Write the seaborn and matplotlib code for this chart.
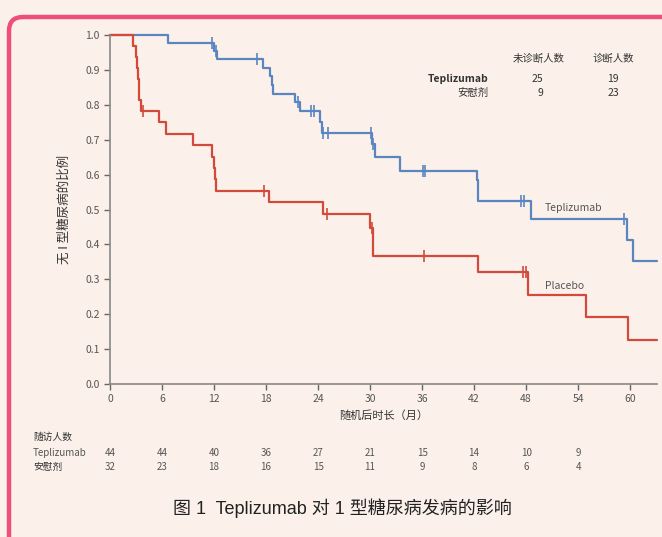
import numpy as np
import seaborn as sns
import matplotlib.pyplot as plt
from matplotlib.patches import FancyBboxPatch

# Kaplan-Meier steps (months, proportion)
tep_t = [0, 6.7, 12.0, 12.4, 17.6, 18.5, 18.7, 18.8, 21.3, 21.9, 24.2, 24.5,
         30.2, 30.6, 33.5, 42.3, 42.5, 48.6, 59.6, 60.3, 63.1]
tep_s = [1.0, 0.977, 0.955, 0.931, 0.906, 0.882, 0.857, 0.831, 0.807, 0.781,
         0.75, 0.72, 0.688, 0.651, 0.611, 0.585, 0.524, 0.473, 0.413, 0.353, 0.353]
tep_cens = [11.8, 12.2, 17.0, 21.7, 23.2, 23.5, 24.6, 25.2, 30.1, 30.3,
            36.1, 36.3, 47.4, 47.8, 59.3]

pla_t = [0, 2.6, 3.0, 3.1, 3.2, 3.3, 3.4, 3.6, 5.6, 6.5, 9.6, 11.8, 12.0,
         12.1, 12.2, 18.3, 24.6, 30.0, 30.3, 42.4, 48.2, 54.9, 59.7, 63.1]
pla_s = [1.0, 0.969, 0.938, 0.906, 0.875, 0.844, 0.813, 0.781, 0.750, 0.716,
         0.685, 0.651, 0.62, 0.588, 0.554, 0.521, 0.486, 0.446, 0.367, 0.32,
         0.255, 0.191, 0.126, 0.126]
pla_cens = [3.85, 17.8, 25.0, 30.2, 36.2, 47.6, 48.0]

risk_months = [0, 6, 12, 18, 24, 30, 36, 42, 48, 54]
risk_tep = [44, 44, 40, 36, 27, 21, 15, 14, 10, 9]
risk_pla = [32, 23, 18, 16, 15, 11, 9, 8, 6, 4]

groups = ["Teplizumab", "安慰剂"]
n_free = [25, 9]
n_diag = [19, 23]

bg = "#FBF1EA"
blue = "#5A85C1"
red = "#D24A3C"
grey = "#666666"

sns.set_style("ticks")
plt.rcParams['font.family'] = ['Noto Sans CJK SC', 'DejaVu Sans']
plt.rcParams['axes.unicode_minus'] = False

fig = plt.figure(figsize=(6.62, 5.37), dpi=100, facecolor=bg)
ax = fig.add_axes([110 / 662, 1 - 384 / 537, 547 / 662, 349 / 537])
ax.set_facecolor(bg)

frame = FancyBboxPatch((0.09, -1.0), 7.5, 6.2, boxstyle="round,pad=0,rounding_size=0.14",
                       transform=fig.dpi_scale_trans, facecolor="none",
                       edgecolor="#EE4F78", lw=3.2, zorder=-5)
fig.patches.append(frame)


def censor_y(t, s, cens):
    idx = np.searchsorted(t, cens, side="right") - 1
    return np.asarray(s)[idx]


for t, s, cens, col in [(tep_t, tep_s, tep_cens, blue), (pla_t, pla_s, pla_cens, red)]:
    sns.lineplot(x=t, y=s, ax=ax, color=col, lw=1.6, drawstyle="steps-post",
                 clip_on=False)
    ax.plot(cens, censor_y(t, s, cens), ls="none", marker="|", ms=8, mew=1.2,
            color=col, clip_on=False)

ax.set_xlim(0, 63.1)
ax.set_ylim(0, 1.0)
ax.set_xticks(range(0, 61, 6))
ax.set_yticks(np.arange(0, 1.01, 0.1))
ax.set_yticklabels([f"{v:.1f}" for v in np.arange(0, 1.01, 0.1)])
ax.tick_params(colors=grey, labelsize=7.5, length=4, width=1)
ax.tick_params(axis="x", labelcolor="#555555")
ax.tick_params(axis="y", labelcolor="#555555")
for sp in ["left", "bottom"]:
    ax.spines[sp].set_color("#888888")
    ax.spines[sp].set_linewidth(1.2)
sns.despine(ax=ax)

ax.set_xlabel("随机后时长（月）", fontsize=8, color="#333333", labelpad=4)
ax.set_ylabel("无 I 型糖尿病的比例", fontsize=9, color="#333333", labelpad=10)

ax.text(50.2, 0.505, "Teplizumab", fontsize=7.5, color="#555555", va="center")
ax.text(50.2, 0.28, "Placebo", fontsize=7.5, color="#555555", va="center")

# summary table, top right
ax.text(49.5, 0.931, "未诊断人数", fontsize=7.5, color="#333333", ha="center", va="center")
ax.text(58.0, 0.931, "诊断人数", fontsize=7.5, color="#333333", ha="center", va="center")
for i, g in enumerate(groups):
    yy = 0.874 - i * 0.04
    ax.text(43.7, yy, g, fontsize=7.5, color="#333333", ha="right", va="center",
            fontweight="bold" if i == 0 else "normal")
    ax.text(50.0, yy, str(n_free[i]), fontsize=7.5, color="#333333", ha="right", va="center")
    ax.text(58.7, yy, str(n_diag[i]), fontsize=7.5, color="#333333", ha="right", va="center")

# number at risk
tr = ax.get_xaxis_transform()
fig.text(33 / 662, 1 - 437 / 537, "随访人数", fontsize=7, color="#333333", va="center")
fig.text(33 / 662, 1 - 453 / 537, "Teplizumab", fontsize=7, color="#555555", va="center")
fig.text(33 / 662, 1 - 467 / 537, "安慰剂", fontsize=7, color="#333333", va="center")
for m, a, b in zip(risk_months, risk_tep, risk_pla):
    ax.text(m, -69 / 349, str(a), transform=tr, fontsize=7, color="#555555",
            ha="center", va="center")
    ax.text(m, -83 / 349, str(b), transform=tr, fontsize=7, color="#555555",
            ha="center", va="center")

fig.text(342 / 662, 1 - 508 / 537, "图 1  Teplizumab 对 1 型糖尿病发病的影响",
         fontsize=13, color="#222222", ha="center", va="center",
         family=['Liberation Sans', 'Noto Sans CJK SC'])

fig.savefig("out.png", dpi=100, facecolor=bg)
